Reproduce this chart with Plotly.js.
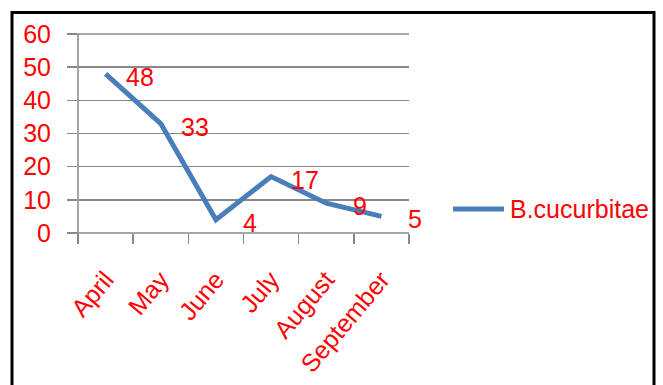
<!DOCTYPE html>
<html>
<head>
<meta charset="utf-8">
<script src="https://cdn.plot.ly/plotly-3.0.1.min.js"></script>
<style>html,body{margin:0;padding:0;background:#fff;}#chart{width:663px;height:385px;}</style>
</head>
<body>
<div id="chart"></div>
<script>
const months = ["April", "May", "June", "July", "August", "September"];
const values = [48, 33, 4, 17, 9, 5];
const seriesName = "B.cucurbitae";
const yTicks = [0, 10, 20, 30, 40, 50, 60];

const FONT = "Liberation Sans, Arial, sans-serif";
const RED = "#ff0000";
const FS = 25;

const trace = {
  type: "scatter",
  mode: "lines",
  x: months,
  y: values,
  name: seriesName,
  line: {color: "#4a7ebb", width: 5},
  showlegend: false
};

const W = 663, H = 385, L = 78, R = 409, T = 34, B = 233;
const pw = R - L, ph = B - T;
const px = v => (v - L) / pw;
const py = v => (B - v) / ph;

const annotations = months.map((m, i) => ({
  x: m, y: values[i], xref: "x", yref: "y",
  text: String(values[i]), showarrow: false,
  xshift: 34, yshift: -3,
  font: {family: FONT, size: FS, color: RED}
}));
annotations.push({
  x: px(508), y: py(209), xref: "paper", yref: "paper",
  xanchor: "left", yanchor: "middle", showarrow: false,
  text: seriesName, font: {family: FONT, size: FS, color: RED}
});

const layout = {
  width: W, height: H,
  margin: {l: L, r: W - R, t: T, b: H - B, pad: 0},
  paper_bgcolor: "#fff", plot_bgcolor: "#fff",
  showlegend: false,
  xaxis: {
    type: "category", range: [-0.5, 5.5],
    showgrid: false, showline: false, zeroline: false,
    ticks: "outside", ticklen: 10, tickcolor: "#888", tickwidth: 1.5,
    tickson: "boundaries", tickangle: -50, ticklabelstandoff: 26,
    tickfont: {family: FONT, size: FS, color: RED}, fixedrange: true
  },
  yaxis: {
    range: [0, 60], tickvals: yTicks, ticktext: yTicks.map(String),
    showgrid: true, gridcolor: "#888", gridwidth: 1.5,
    showline: false, zeroline: false,
    ticks: "outside", ticklen: 10, tickcolor: "#888", tickwidth: 1.5,
    ticklabelstandoff: 11,
    tickfont: {family: FONT, size: FS, color: RED}, fixedrange: true
  },
  annotations: annotations,
  shapes: [
    {type: "line", xref: "paper", yref: "paper", x0: 0, x1: 0, y0: 0, y1: 1,
     line: {color: "#888", width: 1.5}},
    {type: "line", xref: "paper", yref: "paper", x0: px(68), x1: 1, y0: 0, y1: 0,
     line: {color: "#888", width: 1.5}},
    {type: "line", xref: "paper", yref: "paper", x0: px(68), x1: 1, y0: 1, y1: 1,
     line: {color: "#888", width: 1.5}},
    {type: "line", xref: "paper", yref: "paper", x0: px(453), x1: px(504), y0: py(209), y1: py(209),
     line: {color: "#4a7ebb", width: 5}},
    {type: "rect", xref: "paper", yref: "paper",
     x0: px(12), x1: px(654), y0: py(400), y1: py(12.5),
     line: {color: "#000", width: 3}, layer: "above"}
  ]
};

Plotly.newPlot("chart", [trace], layout, {staticPlot: true, displayModeBar: false});
</script>
</body>
</html>
